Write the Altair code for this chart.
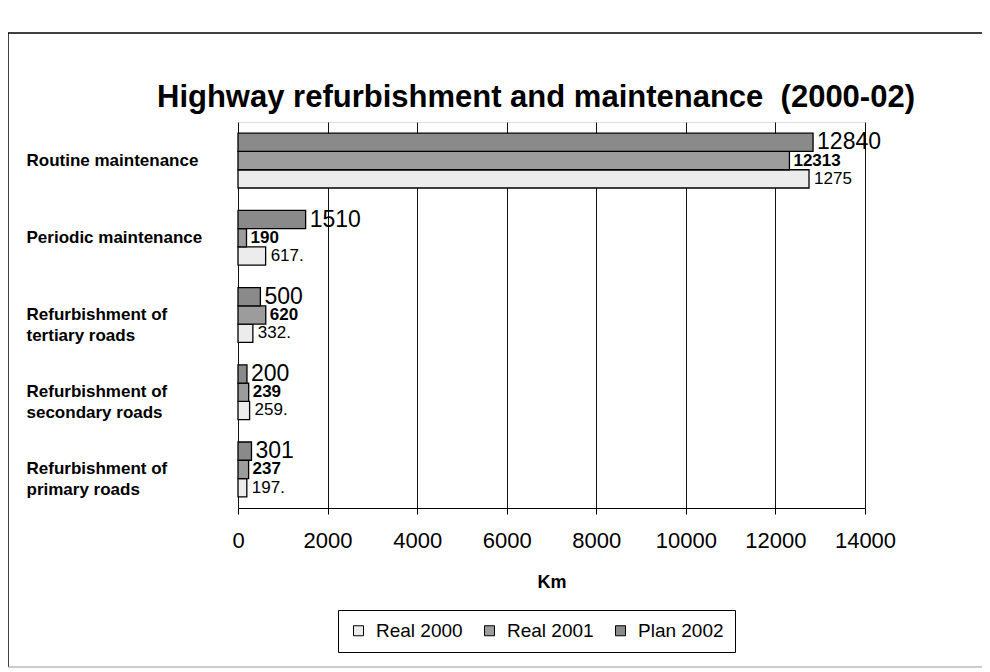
import altair as alt
import pandas as pd

title_text = "Highway refurbishment and maintenance \u00a0(2000-02)"
categories = [
    "Routine maintenance",
    "Periodic maintenance",
    "Refurbishment of|tertiary roads",
    "Refurbishment of|secondary roads",
    "Refurbishment of|primary roads",
]
series = ["Real 2000", "Real 2001", "Plan 2002"]
real_2000 = [12750, 617, 332, 259, 197]
real_2001 = [12313, 190, 620, 239, 237]
plan_2002 = [12840, 1510, 500, 200, 301]
labels_2000 = ["1275", "617.", "332.", "259.", "197."]
labels_2001 = ["12313", "190", "620", "239", "237"]
labels_2002 = ["12840", "1510", "500", "200", "301"]
x_ticks = [0, 2000, 4000, 6000, 8000, 10000, 12000, 14000]

rows = []
for s, vals, labs in [("Real 2000", real_2000, labels_2000),
                      ("Real 2001", real_2001, labels_2001),
                      ("Plan 2002", plan_2002, labels_2002)]:
    for c, v, l in zip(categories, vals, labs):
        rows.append({"category": c, "series": s, "value": v, "label": l})
df = pd.DataFrame(rows)
one = pd.DataFrame({"t": [title_text]})

FONT = "Liberation Sans"

y_enc = alt.Y("category:N", sort=categories,
              scale=alt.Scale(paddingInner=0.29, paddingOuter=0.145),
              axis=alt.Axis(title=None, labelExpr="split(datum.label, '|')",
                            labelAlign="left", labelPadding=212, ticks=False,
                            domain=False, labelFont=FONT, labelFontSize=17,
                            labelFontWeight="bold",
                            labelColor="black", labelLimit=300, labelLineHeight=21))
yoff_enc = alt.YOffset("series:N", sort=["Plan 2002", "Real 2001", "Real 2000"],
                       scale=alt.Scale(domain=["Plan 2002", "Real 2001", "Real 2000"],
                                       paddingInner=0.0))
x_enc = alt.X("value:Q", scale=alt.Scale(domain=[0, 14000], nice=False),
              axis=alt.Axis(values=x_ticks, title="Km", format="d", labelFont=FONT,
                            labelFontSize=22, labelColor="black", titleFont=FONT,
                            titleFontSize=18, titleFontWeight="bold", titleColor="black",
                            titlePadding=22, tickSize=6, tickColor="black",
                            labelPadding=16, domainColor="black", grid=True,
                            gridColor="#111", gridWidth=1, labelFlush=False))

bars = alt.Chart(df).mark_bar(stroke="black", strokeWidth=1.3).encode(
    x=x_enc, y=y_enc, yOffset=yoff_enc,
    fill=alt.Fill("series:N",
                  scale=alt.Scale(domain=series, range=["#ececec", "#9c9c9c", "#8a8a8a"]),
                  legend=alt.Legend(title=None, orient="none", direction="horizontal",
                                    legendX=100, legendY=488, strokeColor="black",
                                    padding=11, labelFont=FONT, labelFontSize=19,
                                    labelColor="black", symbolType="square",
                                    symbolSize=100, symbolStrokeColor="black",
                                    symbolStrokeWidth=1, columnPadding=17,
                                    labelOffset=8)),
)


def text_layer(s, size, weight, dx):
    return alt.Chart(df).transform_filter(alt.datum.series == s).mark_text(
        align="left", baseline="middle", dx=dx, font=FONT, fontSize=size,
        fontWeight=weight, color="black").encode(
        x="value:Q", y=alt.Y("category:N", sort=categories), yOffset=yoff_enc,
        text="label:N")


title = alt.Chart(one).mark_text(
    align="right", baseline="alphabetic", font=FONT, fontSize=31, fontWeight="bold",
    color="black").encode(x=alt.value(677), y=alt.value(-15), text="t:N")

frame_left = alt.Chart(one).mark_rule(color="black", strokeWidth=1.5).encode(
    x=alt.value(-230), y=alt.value(-89), y2=alt.value(545))
frame_top = alt.Chart(one).mark_rule(color="black", strokeWidth=1.5).encode(
    x=alt.value(-230), x2=alt.value(744), y=alt.value(-89))
frame_bottom = alt.Chart(one).mark_rule(color="#999", strokeWidth=1).encode(
    x=alt.value(-230), x2=alt.value(744), y=alt.value(545))

chart = alt.layer(
    bars,
    text_layer("Plan 2002", 23, "normal", 4),
    text_layer("Real 2001", 17, "bold", 4),
    text_layer("Real 2000", 17, "normal", 5),
    title, frame_left, frame_top, frame_bottom,
).resolve_scale(yOffset="shared").properties(
    width=627, height=386,
    padding={"left": 230, "top": 114, "right": 117, "bottom": 164},
    autosize=alt.AutoSizeParams(type="none"),
).configure_view(fill="#efefef", stroke="#444", strokeDash=[1, 2]).configure(
    background="white")

chart.save("out.html", embed_options={"renderer": "svg", "actions": False})
